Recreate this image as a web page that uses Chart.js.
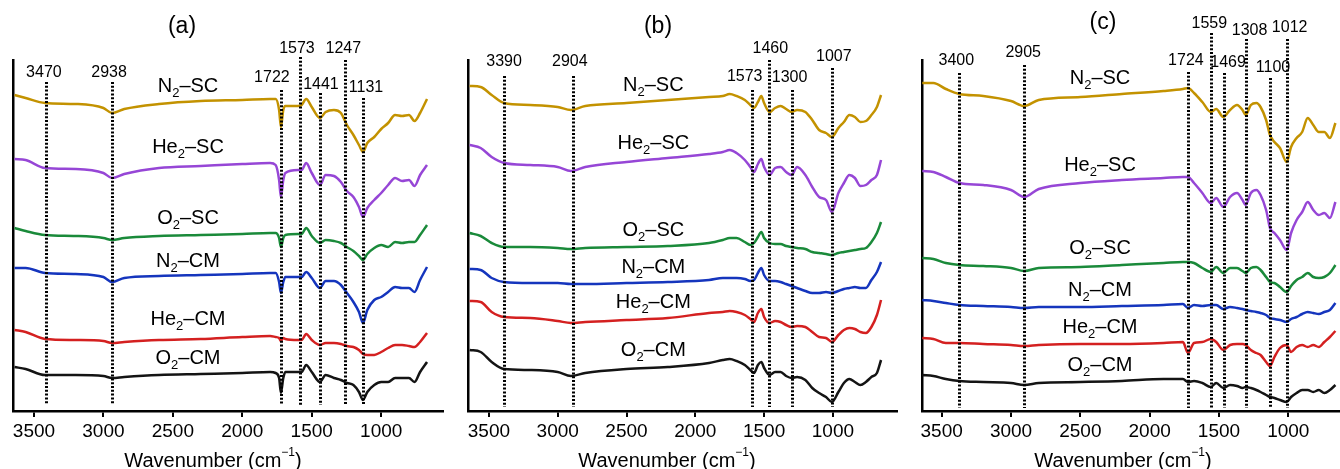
<!DOCTYPE html>
<html>
<head>
<meta charset="utf-8">
<script src="https://cdn.jsdelivr.net/npm/chart.js@4.4.0/dist/chart.umd.min.js"></script>
<style>
    html, body { margin: 0; padding: 0; background: #fff; width: 1340px; height: 469px; overflow: hidden; }
    body { position: relative; font-family: "Liberation Sans", Arial, sans-serif; color: #000; }
    canvas { position: absolute; top: 0; }
    .title { position: absolute; font-size: 23px; line-height: 1; transform: translate(-50%, -50%); white-space: nowrap; }
    .xtitle { position: absolute; font-size: 20px; line-height: 1; transform: translate(-50%, -50%); white-space: nowrap; }
    .xtitle sup { font-size: 12px; line-height: 0; position: relative; top: -3px; }
</style>
</head>
<body>
<canvas id="chartA" width="490" height="469" style="left:-17px"></canvas>
<canvas id="chartB" width="489" height="469" style="left:438px"></canvas>
<canvas id="chartC" width="483" height="469" style="left:892px"></canvas>

<div class="title" style="left:182px; top:25px">(a)</div>
<div class="title" style="left:658px; top:25px">(b)</div>
<div class="title" style="left:1103px; top:21px">(c)</div>
<div class="xtitle" style="left:213px; top:460px">Wavenumber (cm<sup>−1</sup>)</div>
<div class="xtitle" style="left:667px; top:460px">Wavenumber (cm<sup>−1</sup>)</div>
<div class="xtitle" style="left:1123px; top:460px">Wavenumber (cm<sup>−1</sup>)</div>

<script>
// 共用的系列名称、颜色和刻度
const traceNames = ['N2–SC', 'He2–SC', 'O2–SC', 'N2–CM', 'He2–CM', 'O2–CM'];
const traceColors = ['#c39200', '#9646d6', '#1a8a3a', '#1535bd', '#d42020', '#141414'];
const tickValues = [3500, 3000, 2500, 2000, 1500, 1000];

// (a) 面板数据
const waveA = [3640, 3560, 3420, 3200, 3000, 2938, 2850, 2600, 2300, 2000, 1800, 1760, 1735, 1722, 1705, 1690, 1600, 1573, 1540, 1500, 1441, 1400, 1340, 1290, 1247, 1200, 1160, 1131, 1100, 1050, 1000, 950, 900, 850, 800, 760, 720, 670];
const n2scA = [316, 313, 308, 307, 303, 298, 302, 307, 310, 311, 312, 312, 301, 284, 301, 305, 305, 306, 312, 304, 293, 299, 301, 298, 286, 276, 266, 259, 268, 274, 282, 288, 296, 295, 296, 290, 298, 312];
const he2scA = [252, 251, 243, 242, 238, 233, 237, 243, 245, 247, 248, 246, 231, 214, 231, 238, 241, 241, 248, 238, 226, 236, 235, 229, 220, 214, 204, 194, 203, 211, 218, 226, 233, 230, 231, 225, 236, 246];
const o2scA = [183, 180, 176, 175, 173, 171, 173, 175, 176, 177, 178, 178, 173, 164, 173, 176, 177, 177, 183, 175, 168, 171, 170, 168, 164, 160, 155, 151, 157, 163, 166, 164, 169, 168, 169, 169, 176, 186];
const n2cmA = [143, 143, 138, 137, 134, 129, 133, 135, 136, 137, 138, 138, 129, 118, 129, 134, 134, 134, 139, 133, 123, 130, 130, 126, 118, 109, 99, 88, 101, 111, 114, 119, 124, 123, 123, 119, 131, 144];
const he2cmA = [81, 79, 72, 71, 70, 68, 69, 71, 72, 74, 75, 74, 73, 70, 73, 72, 71, 71, 77, 71, 66, 68, 68, 67, 65, 64, 61, 57, 56, 56, 59, 63, 66, 66, 65, 64, 69, 78];
const o2cmA = [44, 42, 36, 36, 35, 33, 34, 36, 37, 38, 39, 38, 33, 18, 33, 39, 39, 39, 46, 39, 29, 36, 33, 31, 28, 26, 19, 11, 19, 26, 29, 29, 33, 33, 33, 29, 39, 49];
const markA = [3414, 2938, 1722, 1585, 1441, 1258, 1131];
const markTextA = ['3470', '2938', '1722', '1573', '1441', '1247', '1131'];

// (b) 面板数据
const waveB = [3640, 3560, 3480, 3390, 3200, 3000, 2904, 2800, 2500, 2200, 1900, 1800, 1750, 1700, 1640, 1600, 1573, 1545, 1520, 1500, 1460, 1420, 1380, 1340, 1300, 1260, 1200, 1150, 1100, 1050, 1007, 960, 920, 880, 840, 800, 760, 720, 680, 650];
const n2scB = [325, 324, 316, 308, 306, 304, 301, 305, 308, 311, 314, 315, 317, 315, 311, 306, 303, 309, 315, 308, 299, 303, 305, 302, 299, 301, 299, 291, 281, 278, 274, 283, 289, 296, 294, 289, 290, 296, 304, 316];
const he2scB = [266, 263, 254, 248, 246, 244, 240, 244, 249, 253, 257, 259, 261, 258, 251, 244, 239, 247, 252, 244, 236, 243, 244, 239, 236, 244, 236, 224, 214, 211, 199, 218, 228, 236, 233, 225, 226, 231, 236, 251];
const o2scB = [178, 175, 168, 164, 164, 163, 162, 163, 164, 165, 168, 171, 173, 173, 169, 166, 168, 174, 179, 173, 168, 167, 167, 165, 164, 163, 162, 159, 158, 157, 156, 158, 159, 160, 161, 162, 163, 169, 178, 189];
const n2cmB = [142, 141, 133, 129, 128, 128, 127, 127, 128, 129, 131, 133, 133, 133, 132, 130, 131, 138, 143, 136, 130, 130, 129, 127, 125, 123, 120, 118, 118, 119, 118, 120, 122, 123, 124, 123, 123, 131, 139, 149];
const he2cmB = [110, 109, 99, 94, 93, 90, 88, 89, 91, 93, 98, 99, 100, 99, 96, 92, 89, 98, 102, 94, 88, 90, 89, 86, 84, 85, 84, 79, 74, 73, 69, 76, 81, 83, 82, 79, 78, 84, 96, 111];
const o2cmB = [61, 59, 49, 42, 41, 39, 35, 38, 42, 44, 48, 51, 52, 50, 46, 41, 38, 46, 49, 43, 36, 39, 39, 35, 33, 34, 31, 23, 18, 14, 9, 19, 28, 32, 29, 26, 29, 34, 38, 51];
const markB = [3390, 2890, 1590, 1462, 1300, 1008];
const markTextB = ['3390', '2904', '1573', '1460', '1300', '1007'];

// (c) 面板数据
const waveC = [3640, 3560, 3470, 3373, 3200, 3000, 2905, 2800, 2500, 2200, 1900, 1760, 1724, 1680, 1620, 1559, 1520, 1469, 1420, 1370, 1330, 1308, 1270, 1230, 1200, 1160, 1132, 1100, 1060, 1012, 980, 940, 900, 860, 820, 780, 740, 700, 660];
const n2scC = [328, 328, 322, 317, 315, 310, 305, 311, 314, 317, 320, 322, 323, 318, 309, 299, 302, 294, 301, 306, 301, 296, 306, 308, 304, 291, 276, 269, 263, 249, 264, 273, 279, 293, 286, 279, 279, 273, 288];
const he2scC = [240, 239, 234, 228, 226, 221, 214, 222, 228, 231, 233, 234, 234, 228, 218, 208, 213, 204, 214, 218, 211, 206, 218, 221, 216, 201, 183, 178, 171, 161, 178, 191, 199, 209, 201, 196, 198, 193, 209];
const o2scC = [153, 152, 148, 146, 145, 143, 140, 143, 144, 146, 148, 149, 149, 148, 143, 139, 144, 138, 143, 143, 140, 138, 143, 144, 141, 134, 129, 128, 124, 119, 125, 131, 134, 138, 134, 133, 134, 138, 146];
const n2cmC = [111, 110, 108, 106, 105, 104, 103, 104, 104, 105, 106, 107, 103, 106, 105, 106, 106, 102, 104, 103, 102, 101, 100, 99, 98, 96, 93, 92, 91, 89, 92, 94, 97, 99, 98, 97, 99, 101, 108];
const he2cmC = [73, 72, 68, 68, 67, 66, 65, 66, 67, 67, 68, 69, 58, 68, 69, 72, 69, 61, 66, 67, 67, 66, 61, 58, 56, 49, 45, 54, 63, 66, 59, 64, 66, 64, 66, 64, 69, 74, 80];
const o2cmC = [36, 35, 32, 30, 29, 28, 26, 28, 29, 30, 32, 32, 29, 30, 28, 24, 28, 23, 26, 25, 23, 24, 23, 21, 19, 16, 14, 13, 11, 9, 14, 18, 21, 21, 19, 21, 18, 21, 26];
const markC = [3373, 2905, 1724, 1555, 1463, 1308, 1132, 1012];
const markTextC = ['3400', '2905', '1724', '1559', '1469', '1308', '1100', '1012'];

// 版面设置（位置、标注高度等）
const panels = [
    {
        id: 'chartA', xMin: 555, xMax: 3651,
        wave: waveA, series: [n2scA, he2scA, o2scA, n2cmA, he2cmA, o2cmA],
        marks: markA, markText: markTextA,
        markTop: [329, 329, 321, 354, 318, 351, 313], markBottom: 6,
        labelY: [338, 338, 333, 362, 326, 362, 323], labelDx: [-2, -3, -9, -3, 1, -2, 3],
        nameAt: 2391, nameY: [325, 264, 193, 150, 92, 53]
    },
    {
        id: 'chartB', xMin: 534, xMax: 3652,
        wave: waveB, series: [n2scB, he2scB, o2scB, n2cmB, he2cmB, o2cmB],
        marks: markB, markText: markTextB,
        markTop: [335, 335, 321, 351, 321, 343], markBottom: 4,
        labelY: [349, 349, 334, 362, 333, 354], labelDx: [0, -3, -7, 1, -2, 2],
        nameAt: 2305, nameY: [326, 268, 181, 144, 109, 61]
    },
    {
        id: 'chartC', xMin: 591, xMax: 3642,
        wave: waveC, series: [n2scC, he2scC, o2scC, n2cmC, he2cmC, o2cmC],
        marks: markC, markText: markTextC,
        markTop: [338, 346, 339, 378, 338, 372, 333, 372], markBottom: 3,
        labelY: [350, 358, 350, 387, 348, 380, 343, 383], labelDx: [-3, -1, -2, -2, 4, 4, 3, 3],
        nameAt: 2358, nameY: [333, 246, 163, 121, 84, 46]
    }
];

const FONT = '"Liberation Sans", Arial, Helvetica, sans-serif';

function drawName(ctx, name, cx, cy) {
    const m = name.match(/^([A-Za-z]+)(\d)(.*)$/);
    const big = '20px ' + FONT, small = '13px ' + FONT;
    ctx.font = big;
    const w1 = ctx.measureText(m[1]).width;
    const w3 = ctx.measureText(m[3]).width;
    ctx.font = small;
    const w2 = ctx.measureText(m[2]).width;
    let x = cx - (w1 + w2 + w3) / 2;
    ctx.textAlign = 'left';
    ctx.textBaseline = 'middle';
    ctx.font = big;
    ctx.fillText(m[1], x, cy);
    x += w1;
    ctx.font = small;
    ctx.fillText(m[2], x, cy + 7);
    x += w2;
    ctx.font = big;
    ctx.fillText(m[3], x, cy);
}

const markerPlugin = {
    id: 'markers',
    afterDatasetsDraw(chart, args, opts) {
        const p = opts.panel;
        const ctx = chart.ctx;
        const xs = chart.scales.x, ys = chart.scales.y;
        ctx.save();
        // 虚线标记
        ctx.strokeStyle = '#000';
        ctx.lineWidth = 3;
        ctx.setLineDash([2, 1.8]);
        p.marks.forEach((w, i) => {
            const x = Math.round(xs.getPixelForValue(w)) + 0.5;
            ctx.beginPath();
            ctx.moveTo(x, Math.round(ys.getPixelForValue(p.markTop[i])));
            ctx.lineTo(x, Math.round(ys.getPixelForValue(p.markBottom)));
            ctx.stroke();
        });
        ctx.setLineDash([]);
        // 峰位数字
        ctx.fillStyle = '#000';
        ctx.font = '16px ' + FONT;
        ctx.textAlign = 'center';
        ctx.textBaseline = 'middle';
        p.markText.forEach((t, i) => {
            ctx.fillText(t, xs.getPixelForValue(p.marks[i]) + p.labelDx[i], ys.getPixelForValue(p.labelY[i]));
        });
        // 曲线名称
        traceNames.forEach((name, i) => {
            drawName(ctx, name, xs.getPixelForValue(p.nameAt), ys.getPixelForValue(p.nameY[i]));
        });
        ctx.restore();
    }
};

function buildChart(p) {
    return new Chart(document.getElementById(p.id), {
        type: 'line',
        data: {
            datasets: p.series.map((vals, i) => ({
                label: traceNames[i],
                data: p.wave.map((w, j) => ({ x: w, y: vals[j] })),
                borderColor: traceColors[i],
                borderWidth: 2.5,
                pointRadius: 0,
                cubicInterpolationMode: 'monotone',
                fill: false
            }))
        },
        options: {
            responsive: false,
            animation: false,
            devicePixelRatio: 1,
            layout: { padding: { left: 30, right: 30, top: 60, bottom: 0 } },
            plugins: {
                legend: { display: false },
                tooltip: { enabled: false },
                markers: { panel: p }
            },
            scales: {
                x: {
                    type: 'linear',
                    reverse: true,
                    min: p.xMin,
                    max: p.xMax,
                    afterBuildTicks: (axis) => { axis.ticks = tickValues.map(v => ({ value: v })); },
                    afterFit: (axis) => { axis.height = 58; },
                    ticks: {
                        autoSkip: false,
                        maxRotation: 0,
                        padding: 3,
                        color: '#000',
                        font: { family: FONT, size: 19 },
                        callback: (v) => String(v)
                    },
                    grid: { display: true, drawOnChartArea: false, drawTicks: true, tickLength: 6, color: '#000', lineWidth: 2 },
                    border: { display: true, color: '#000', width: 2.5 }
                },
                y: {
                    min: 0,
                    max: 351,
                    afterFit: (axis) => { axis.width = 0; },
                    ticks: { display: false },
                    grid: { display: false },
                    border: { display: true, color: '#000', width: 2.5 }
                }
            }
        },
        plugins: [markerPlugin]
    });
}

document.addEventListener('DOMContentLoaded', () => {
    window.ftirCharts = panels.map(buildChart);
});
</script>
</body>
</html>
